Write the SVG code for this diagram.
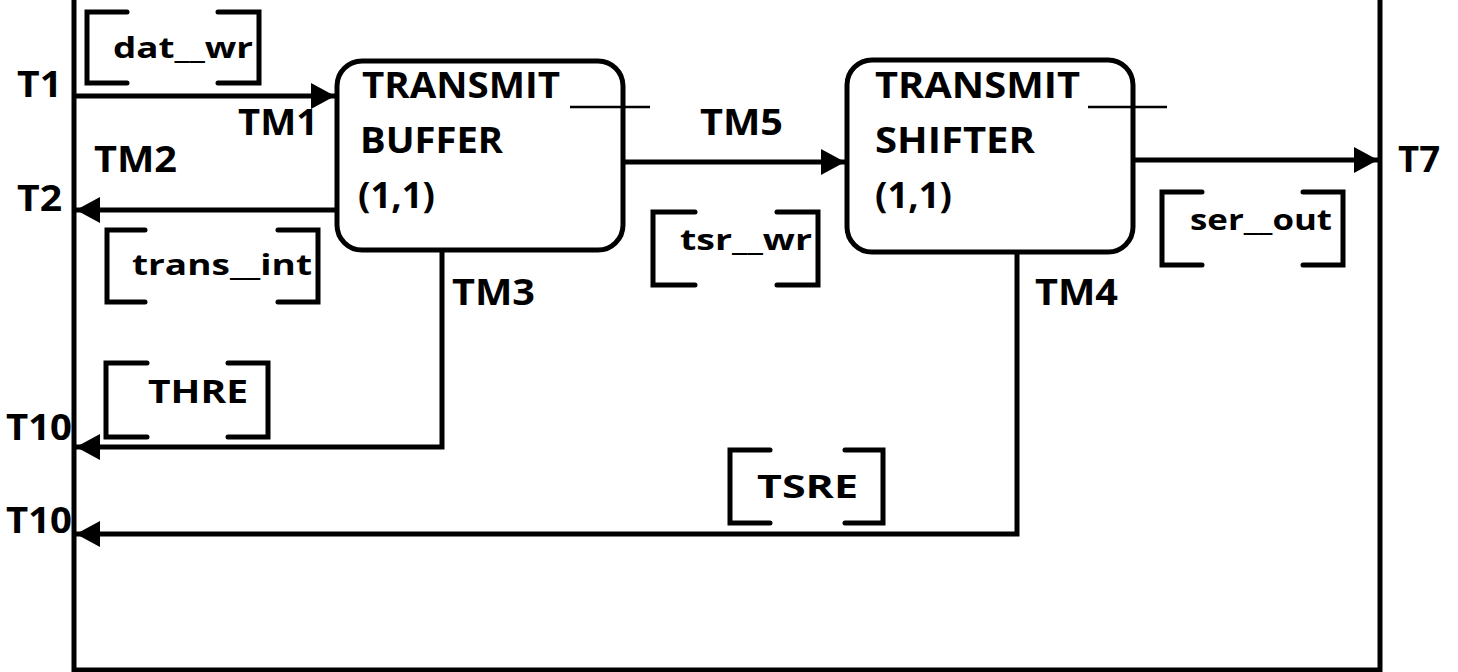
<svg xmlns="http://www.w3.org/2000/svg" width="1458" height="672" viewBox="0 0 1458 672">
<defs>
<marker id="arr" markerUnits="userSpaceOnUse" markerWidth="26" markerHeight="28" refX="24" refY="13" orient="auto">
<path d="M0,0 L24,13 L0,26 z" fill="#000"/>
</marker>
<style>
.ln{fill:none;stroke:#000;stroke-width:5;stroke-linejoin:miter}
.br{fill:none;stroke:#000;stroke-width:5;stroke-linecap:round}
.box{fill:#fff;stroke:#000;stroke-width:5}
.ul{stroke:#000;stroke-width:2.5}
.t{font-family:"Open Sans","Liberation Sans",sans-serif;font-weight:700;font-size:35px;fill:#000}
.s{font-family:"Open Sans","Liberation Sans",sans-serif;font-weight:700;font-size:29px;fill:#000}
.c{font-family:"Open Sans","Liberation Sans",sans-serif;font-weight:700;font-size:33px;fill:#000}
</style>
</defs>
<rect width="1458" height="672" fill="#fff"/>
<g id="frame">
<path class="ln" d="M74 0 V670 H1380 V0"/>
</g>
<g id="connectors">
<path class="ln" d="M74 96 H335" marker-end="url(#arr)"/>
<path class="ln" d="M337 210 H76" marker-end="url(#arr)"/>
<path class="ln" d="M623 162 H845" marker-end="url(#arr)"/>
<path class="ln" d="M1133 160 H1378" marker-end="url(#arr)"/>
<path class="ln" d="M442 250 V447 H76" marker-end="url(#arr)"/>
<path class="ln" d="M1017 252 V534 H76" marker-end="url(#arr)"/>
</g>
<g id="transmit-buffer">
<rect class="box" x="337" y="61" width="286" height="189" rx="25"/>
<text class="t" x="362" y="98" textLength="198" lengthAdjust="spacingAndGlyphs">TRANSMIT</text>
<line class="ul" x1="570" y1="107" x2="650" y2="107"/>
<text class="t" x="360" y="153" textLength="143" lengthAdjust="spacingAndGlyphs">BUFFER</text>
<text class="t" x="358" y="208" textLength="77" lengthAdjust="spacingAndGlyphs">(1,1)</text>
</g>
<g id="transmit-shifter">
<rect class="box" x="847" y="60" width="286" height="192" rx="25"/>
<text class="t" x="875" y="98" textLength="205" lengthAdjust="spacingAndGlyphs">TRANSMIT</text>
<line class="ul" x1="1088" y1="107" x2="1167" y2="107"/>
<text class="t" x="875" y="153" textLength="160" lengthAdjust="spacingAndGlyphs">SHIFTER</text>
<text class="t" x="875" y="208" textLength="77" lengthAdjust="spacingAndGlyphs">(1,1)</text>
</g>
<g id="ports">
<text class="t" x="17" y="97" textLength="45" lengthAdjust="spacingAndGlyphs">T1</text>
<text class="t" x="17" y="211" textLength="45" lengthAdjust="spacingAndGlyphs">T2</text>
<text class="t" x="1398" y="172" textLength="42" lengthAdjust="spacingAndGlyphs">T7</text>
<text class="t" x="6" y="440" textLength="66" lengthAdjust="spacingAndGlyphs">T10</text>
<text class="t" x="6" y="533" textLength="66" lengthAdjust="spacingAndGlyphs">T10</text>
<text class="t" x="238" y="135" textLength="80" lengthAdjust="spacingAndGlyphs">TM1</text>
<text class="t" x="94" y="172" textLength="83" lengthAdjust="spacingAndGlyphs">TM2</text>
<text class="t" x="700" y="135" textLength="83" lengthAdjust="spacingAndGlyphs">TM5</text>
<text class="t" x="452" y="305" textLength="83" lengthAdjust="spacingAndGlyphs">TM3</text>
<text class="t" x="1035" y="305" textLength="83" lengthAdjust="spacingAndGlyphs">TM4</text>
</g>
<g id="label-dat-wr">
<path class="br" d="M127 12 H87 V83 H127 M218 12 H259 V83 H218"/>
<text class="s" x="113" y="58" textLength="140" lengthAdjust="spacingAndGlyphs">dat__wr</text>
</g>
<g id="label-trans-int">
<path class="br" d="M145 230 H107 V302 H145 M278 230 H318 V302 H278"/>
<text class="s" x="132" y="275" textLength="180" lengthAdjust="spacingAndGlyphs">trans__int</text>
</g>
<g id="label-tsr-wr">
<path class="br" d="M695 212 H653 V285 H695 M777 212 H818 V285 H777"/>
<text class="s" x="680" y="250" textLength="132" lengthAdjust="spacingAndGlyphs">tsr__wr</text>
</g>
<g id="label-ser-out">
<path class="br" d="M1202 192 H1162 V265 H1202 M1303 192 H1343 V265 H1303"/>
<text class="s" x="1190" y="230" textLength="142" lengthAdjust="spacingAndGlyphs">ser__out</text>
</g>
<g id="label-thre">
<path class="br" d="M147 363 H106 V437 H147 M228 363 H268 V437 H228"/>
<text class="c" x="148" y="403" textLength="100" lengthAdjust="spacingAndGlyphs">THRE</text>
</g>
<g id="label-tsre">
<path class="br" d="M770 450 H730 V523 H770 M845 450 H883 V523 H845"/>
<text class="c" x="757" y="498" textLength="101" lengthAdjust="spacingAndGlyphs">TSRE</text>
</g>
</svg>
